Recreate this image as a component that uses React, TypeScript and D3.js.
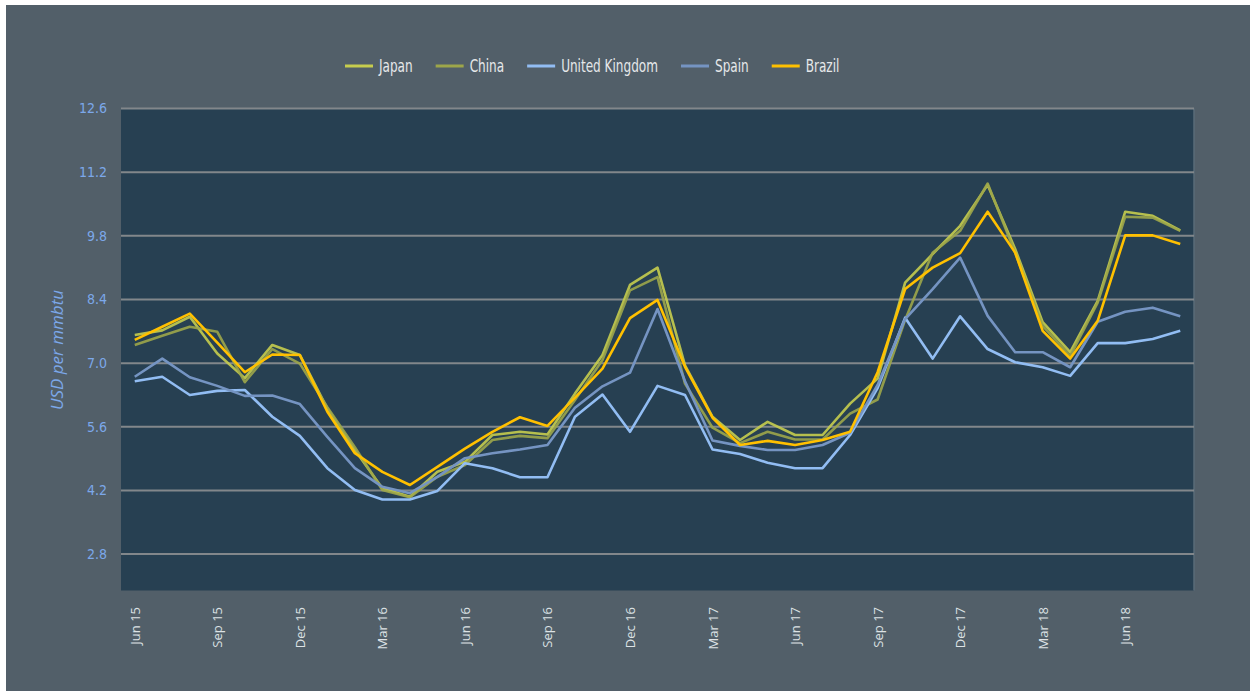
import React, { useEffect, useLayoutEffect, useRef, useState } from "react";
import * as d3 from "d3";

const months = [
  "Jun 15","Jul 15","Aug 15","Sep 15","Oct 15","Nov 15","Dec 15",
  "Jan 16","Feb 16","Mar 16","Apr 16","May 16","Jun 16","Jul 16","Aug 16","Sep 16","Oct 16","Nov 16","Dec 16",
  "Jan 17","Feb 17","Mar 17","Apr 17","May 17","Jun 17","Jul 17","Aug 17","Sep 17","Oct 17","Nov 17","Dec 17",
  "Jan 18","Feb 18","Mar 18","Apr 18","May 18","Jun 18","Jul 18","Aug 18",
];

const xTickLabels = ["Jun 15","Sep 15","Dec 15","Mar 16","Jun 16","Sep 16","Dec 16","Mar 17","Jun 17","Sep 17","Dec 17","Mar 18","Jun 18"];
const yTicks = [2.8, 4.2, 5.6, 7.0, 8.4, 9.8, 11.2, 12.6];

const japan = [7.62,7.72,8.02,7.21,6.67,7.40,7.18,6.00,5.09,4.25,4.06,4.61,4.83,5.42,5.49,5.43,6.33,7.18,8.72,9.10,6.95,5.82,5.31,5.71,5.42,5.42,6.11,6.66,8.77,9.40,10.02,10.92,9.51,7.90,7.24,8.37,10.33,10.24,9.92];
const china = [7.40,7.60,7.80,7.69,6.58,7.31,6.99,6.03,5.15,4.21,4.05,4.50,4.76,5.31,5.40,5.35,6.19,7.07,8.60,8.89,6.55,5.58,5.24,5.49,5.32,5.32,5.89,6.20,7.95,9.43,9.91,10.95,9.43,7.82,7.16,8.33,10.22,10.20,9.91];
const unitedKingdom = [6.60,6.70,6.30,6.39,6.41,5.82,5.40,4.69,4.21,4.00,4.00,4.19,4.80,4.69,4.49,4.49,5.82,6.31,5.49,6.50,6.30,5.10,5.00,4.81,4.69,4.69,5.42,6.45,8.00,7.10,8.03,7.31,7.02,6.91,6.72,7.44,7.44,7.53,7.71];
const spain = [6.70,7.10,6.69,6.50,6.28,6.29,6.10,5.38,4.69,4.28,4.14,4.50,4.91,5.02,5.10,5.20,6.02,6.49,6.79,8.19,6.60,5.30,5.18,5.09,5.09,5.20,5.47,6.52,7.97,8.63,9.32,8.04,7.24,7.24,6.91,7.91,8.13,8.22,8.03];
const brazil = [7.51,7.80,8.09,7.45,6.80,7.19,7.18,5.93,5.02,4.61,4.32,4.72,5.12,5.49,5.81,5.62,6.24,6.88,7.99,8.39,6.92,5.80,5.20,5.29,5.20,5.31,5.49,6.80,8.63,9.10,9.42,10.33,9.43,7.71,7.10,7.93,9.81,9.81,9.62];

const seriesNames = ["Japan", "China", "United Kingdom", "Spain", "Brazil"];
const seriesValues = [japan, china, unitedKingdom, spain, brazil];
const seriesColors = ["#c6cd4e", "#9da64a", "#92bdf3", "#7594c2", "#ffc000"];
const seriesOpacity = [0.9, 0.9, 1, 1, 1];

const W = 1256;
const H = 693;
const plot = { left: 121, right: 1194, top: 108.5, bottom: 590.5 };
const condensed = "'DejaVu Sans Condensed','Open Sans',sans-serif";

export default function App() {
  const legendRef = useRef<SVGGElement | null>(null);
  const [widths, setWidths] = useState<number[]>(seriesNames.map((n) => n.length * 7));

  useEffect(() => {
    document.body.style.margin = "0";
  }, []);

  const legendScale = 0.79;

  useLayoutEffect(() => {
    if (!legendRef.current) return;
    const texts = legendRef.current.querySelectorAll("text");
    const w = Array.from(texts).map((t) => (t as SVGTextElement).getComputedTextLength() * legendScale);
    if (w.some((v, i) => Math.abs(v - widths[i]) > 0.5)) setWidths(w);
  });

  const x = d3.scalePoint<string>().domain(months).range([plot.left, plot.right]).padding(0.5);
  const y = d3.scaleLinear().domain([2.0, 12.6]).range([plot.bottom, plot.top]);
  const line = d3
    .line<number>()
    .x((_, i) => x(months[i]) as number)
    .y((d) => y(d));

  const lineLen = 28;
  const textGap = 6;
  const itemGap = 23;
  const legendStart = 345;
  const legendX: number[] = [];
  let cur = legendStart;
  widths.forEach((w) => {
    legendX.push(cur);
    cur += lineLen + textGap + w + itemGap;
  });

  return (
    <svg width={W} height={H} style={{ display: "block" }}>
      <rect x={6} y={5} width={1244} height={686} fill="#525f69" />
      <rect x={plot.left} y={plot.top} width={plot.right - plot.left} height={plot.bottom - plot.top} fill="#274052" />
      <line x1={plot.right} x2={plot.right} y1={plot.top} y2={plot.bottom} stroke="#5a6b78" strokeWidth={1.5} />
      {yTicks.map((t) => (
        <g key={t}>
          <line x1={plot.left} x2={plot.right} y1={y(t)} y2={y(t)} stroke="#82878b" strokeWidth={2} />
          <text x={107} y={y(t)} dy="0.35em" textAnchor="end" fill="#7ca8ea" fontSize={14} fontFamily={condensed}>
            {t.toFixed(1)}
          </text>
        </g>
      ))}
      <text
        transform="translate(63,350) rotate(-90)"
        textAnchor="middle"
        fill="#7ca8ea"
        fontSize={17}
        fontStyle="italic"
        fontFamily="'Open Sans',sans-serif"
      >
        USD per mmbtu
      </text>
      {xTickLabels.map((m) => (
        <text
          key={m}
          transform={`translate(${(x(m) as number) + 5},607) rotate(-90)`}
          textAnchor="end"
          fill="#dde2e5"
          fontSize={13}
          fontFamily="'Open Sans',sans-serif"
        >
          {m}
        </text>
      ))}
      {seriesValues.map((vals, i) => (
        <path
          key={seriesNames[i]}
          d={line(vals) as string}
          fill="none"
          stroke={seriesColors[i]}
          strokeOpacity={seriesOpacity[i]}
          strokeWidth={2.6}
          strokeLinejoin="round"
        />
      ))}
      <g ref={legendRef}>
        {seriesNames.map((n, i) => (
          <g key={n}>
            <line x1={legendX[i]} x2={legendX[i] + lineLen} y1={66} y2={66} stroke={seriesColors[i]} strokeWidth={3} />
            <g transform={`translate(${legendX[i] + lineLen + textGap},66) scale(${legendScale},1)`}>
              <text x={0} y={0} dy="0.35em" fill="#e6e8ea" fontSize={17} fontFamily={condensed}>
                {n}
              </text>
            </g>
          </g>
        ))}
      </g>
    </svg>
  );
}
